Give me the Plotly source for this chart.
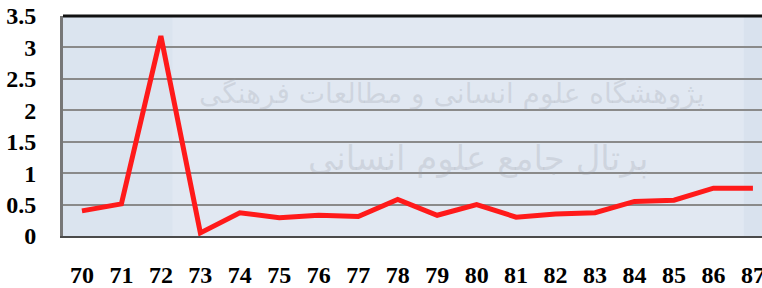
import plotly.graph_objects as go

years = [70, 71, 72, 73, 74, 75, 76, 77, 78, 79, 80, 81, 82, 83, 84, 85, 86, 87]
values = [0.40, 0.51, 3.18, 0.05, 0.37, 0.29, 0.33, 0.31, 0.58, 0.33, 0.50, 0.30, 0.35, 0.37, 0.55, 0.57, 0.76, 0.76]
y_ticks = [0, 0.5, 1, 1.5, 2, 2.5, 3, 3.5]
y_tick_labels = ["0", "0.5", "1", "1.5", "2", "2.5", "3", "3.5"]
watermark_1 = "پژوهشگاه علوم انسانی و مطالعات فرهنگی"
watermark_2 = "پرتال جامع علوم انسانی"

tick_font = dict(family="Liberation Serif", size=24, color="black")
wm_color = "rgba(150,155,165,0.25)"

fig = go.Figure()
fig.add_trace(go.Scatter(
    x=years, y=values, mode="lines",
    line=dict(color="#ff1a1a", width=5),
    hoverinfo="skip", showlegend=False,
))

# background panels
fig.add_shape(type="rect", xref="x", yref="paper", x0=69.52, x1=72.3, y0=0, y1=1,
              fillcolor="#dbe4ef", line_width=0, layer="below")
fig.add_shape(type="rect", xref="x", yref="paper", x0=72.3, x1=86.77, y0=0, y1=1,
              fillcolor="#e1e8f2", line_width=0, layer="below")
fig.add_shape(type="rect", xref="x", yref="paper", x0=86.77, x1=87.23, y0=0, y1=1,
              fillcolor="#d9e2ee", line_width=0, layer="below")
# top border
fig.add_shape(type="line", xref="paper", yref="paper", x0=0, x1=1, y0=1, y1=1,
              line=dict(color="#111111", width=3))

fig.add_annotation(text=watermark_1, xref="paper", yref="paper", x=0.92, xanchor="right", y=0.73,
                   showarrow=False, font=dict(family="DejaVu Sans", size=28, color=wm_color))
fig.add_annotation(text=watermark_2, xref="paper", yref="paper", x=0.84, xanchor="right", y=0.25,
                   showarrow=False, font=dict(family="DejaVu Sans", size=34, color=wm_color))

fig.update_layout(
    width=762, height=288,
    margin=dict(l=63, r=0, t=16, b=52, autoexpand=False),
    paper_bgcolor="white", plot_bgcolor="#e1e8f2",
    xaxis=dict(
        range=[69.52, 87.23], tickmode="array", tickvals=years,
        ticktext=[f"<b>{y}</b>" for y in years], tickfont=tick_font,
        showgrid=False, zeroline=False, showline=True, linecolor="#4a4a4a", linewidth=2,
        ticks="", ticklabelstandoff=16, ticklabeloverflow="allow", automargin=False,
    ),
    yaxis=dict(
        range=[0, 3.5], tickmode="array", tickvals=y_ticks,
        ticktext=[f"<b>{t}</b>" for t in y_tick_labels], tickfont=tick_font,
        showgrid=True, gridcolor="#8a8a8a", gridwidth=1.5, zeroline=False,
        showline=True, linecolor="#777777", linewidth=3,
        ticks="", ticklabelstandoff=19, ticklabeloverflow="allow", automargin=False,
    ),
)

fig.write_html(
    "out.html",
    config={"displayModeBar": False},
    post_script="document.body.style.margin='0';document.body.style.overflow='hidden';",
)
